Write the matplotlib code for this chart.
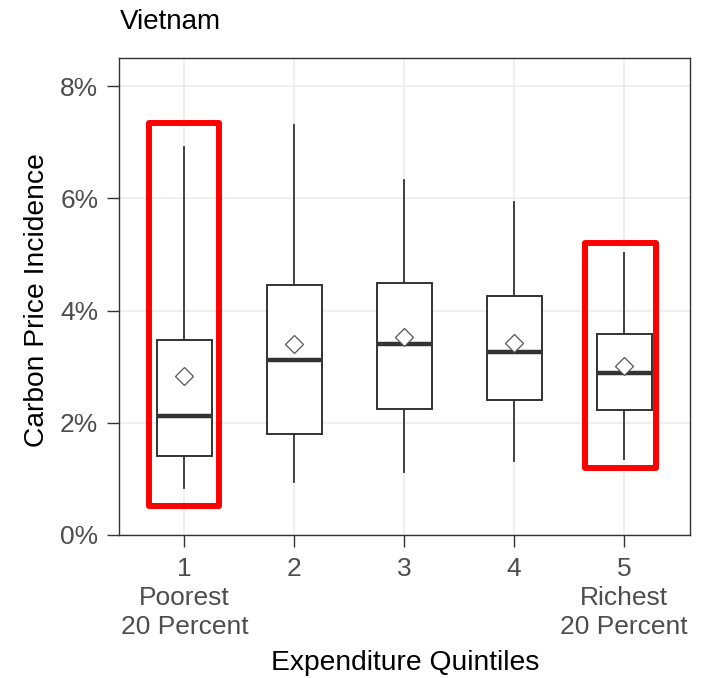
import matplotlib.pyplot as plt
from matplotlib.patches import Rectangle

plt.rcParams["font.family"] = ["Liberation Sans", "DejaVu Sans"]

# carbon price incidence (%) by expenditure quintile
quintiles = [1, 2, 3, 4, 5]
tick_labels = ["1\nPoorest\n20 Percent", "2", "3", "4", "5\nRichest\n20 Percent"]
whisker_low = [0.84, 0.95, 1.12, 1.32, 1.36]
q1 = [1.40, 1.80, 2.25, 2.40, 2.23]
median = [2.12, 3.12, 3.40, 3.26, 2.89]
q3 = [3.48, 4.46, 4.49, 4.26, 3.59]
whisker_high = [6.91, 7.30, 6.32, 5.93, 5.03]
mean = [2.84, 3.40, 3.53, 3.42, 3.01]

# highlighted groups: (x0, x1, y0, y1)
highlights = [(0.68, 1.315, 0.51, 7.34), (4.645, 5.29, 1.19, 5.21)]

stats = []
for i in range(len(quintiles)):
    stats.append({
        "whislo": whisker_low[i], "q1": q1[i], "med": median[i],
        "q3": q3[i], "whishi": whisker_high[i], "mean": mean[i],
        "fliers": [],
    })

fig = plt.figure(figsize=(7.03, 6.78), dpi=100)
ax = fig.add_axes([118.5 / 703, (678 - 535) / 678, (690 - 118.5) / 703, (535 - 58) / 678])

dark = "#333333"
ax.bxp(stats, positions=quintiles, widths=0.5, showmeans=True, showcaps=False,
       showfliers=False, patch_artist=True,
       boxprops=dict(facecolor="white", edgecolor=dark, linewidth=1.4),
       whiskerprops=dict(color=dark, linewidth=1.3),
       medianprops=dict(color=dark, linewidth=3.2, solid_capstyle="butt"),
       meanprops=dict(marker="D", markersize=9, markerfacecolor="white",
                      markeredgecolor="#555555", markeredgewidth=0.9),
       zorder=3)

for x0, x1, y0, y1 in highlights:
    ax.add_patch(Rectangle((x0, y0), x1 - x0, y1 - y0, fill=False,
                           edgecolor="#FF0000", linewidth=4.3,
                           joinstyle="round", zorder=5, clip_on=False))

ax.set_xlim(0.4, 5.6)
ax.set_ylim(0, 8.5)
ax.set_yticks([0, 2, 4, 6, 8])
ax.set_yticklabels(["0%", "2%", "4%", "6%", "8%"])
ax.set_xticks(quintiles)
ax.set_xticklabels(tick_labels, linespacing=1.27)

ax.grid(True, color="#EBEBEB", linewidth=1.1, zorder=0)
ax.set_axisbelow(True)
for s in ax.spines.values():
    s.set_color(dark)
    s.set_linewidth(1.0)
ax.tick_params(axis="both", colors=dark, length=8.5, width=1.0,
               labelsize=19, labelcolor="#4D4D4D")
ax.tick_params(axis="x", pad=7)
ax.tick_params(axis="y", pad=6)

fig.text(37 / 703, 1 - 300 / 678, "Carbon Price Incidence", fontsize=20.3,
         rotation=90, ha="center", va="center")
fig.text(405 / 703, 1 - 663 / 678, "Expenditure Quintiles", fontsize=20.3,
         ha="center", va="center")
fig.text(120 / 703, 1 - 22 / 678, "Vietnam", fontsize=20, ha="left", va="center")

fig.savefig("out.png", dpi=100)
